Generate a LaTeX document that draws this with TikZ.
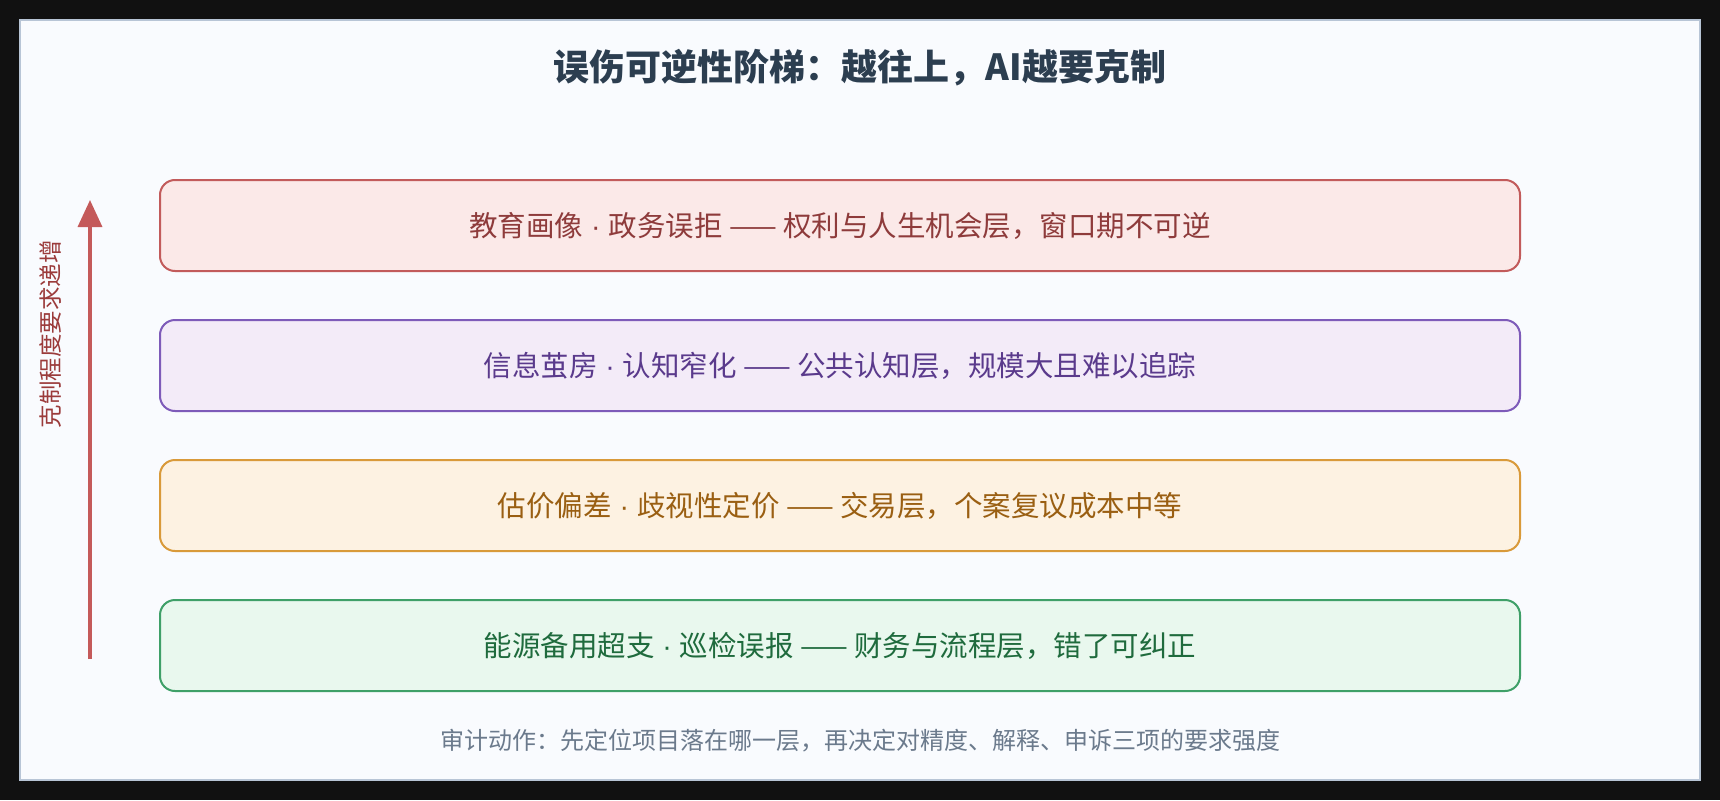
\documentclass[tikz,border=0pt]{standalone}
\usepackage{fontspec}
\setmainfont{Noto Sans CJK SC}
\newfontfamily\latinfont{Liberation Sans}
\newcommand{\mdot}{{\latinfont\ ·\ }}
\usetikzlibrary{arrows.meta}
\definecolor{outerbg}{HTML}{111111}
\definecolor{panelfill}{HTML}{F9FBFE}
\definecolor{paneldraw}{HTML}{B8C5D6}
\definecolor{titlec}{HTML}{2C3E50}
\definecolor{notec}{HTML}{6B7A8C}
\definecolor{redfill}{HTML}{FBE9E8}
\definecolor{reddraw}{HTML}{C25B5B}
\definecolor{redtext}{HTML}{8E3B3B}
\definecolor{purfill}{HTML}{F3EBF8}
\definecolor{purdraw}{HTML}{7E5BB9}
\definecolor{purtext}{HTML}{5A3A8C}
\definecolor{orafill}{HTML}{FDF2E2}
\definecolor{oradraw}{HTML}{D99A3A}
\definecolor{oratext}{HTML}{9A5F12}
\definecolor{grefill}{HTML}{E9F8EE}
\definecolor{gredraw}{HTML}{3FA068}
\definecolor{gretext}{HTML}{1F6B3D}
\definecolor{arrowc}{HTML}{C45A5A}
\definecolor{labelc}{HTML}{9B3B3B}
\tikzset{
  layerbox/.style={draw, line width=2pt, rounded corners=15pt, minimum width=1360pt, minimum height=91pt, inner sep=0pt, font=\fontsize{28.5}{33}\selectfont},
}
\begin{document}
\begin{tikzpicture}[x=1pt,y=-1pt]
\useasboundingbox (0,0) rectangle (1720,800);
\fill[outerbg] (0,0) rectangle (1720,800);
\draw[paneldraw, fill=panelfill, line width=2pt] (20,20) rectangle (1700,780);
\node[text=titlec, font=\fontsize{36}{42}\selectfont\bfseries] (title) at (860,68) {误伤可逆性阶梯：越往上，AI越要克制};
\node[layerbox, draw=reddraw, fill=redfill, text=redtext] (l4) at (840,225.5) {教育画像\mdot 政务误拒 —— 权利与人生机会层，窗口期不可逆};
\node[layerbox, draw=purdraw, fill=purfill, text=purtext] (l3) at (840,365.5) {信息茧房\mdot 认知窄化 —— 公共认知层，规模大且难以追踪};
\node[layerbox, draw=oradraw, fill=orafill, text=oratext] (l2) at (840,505.5) {估价偏差\mdot 歧视性定价 —— 交易层，个案复议成本中等};
\node[layerbox, draw=gredraw, fill=grefill, text=gretext] (l1) at (840,645.5) {能源备用超支\mdot 巡检误报 —— 财务与流程层，错了可纠正};
\coordinate (abot) at (90,659);
\coordinate (atop) at (90,200);
\draw[arrowc, line width=3.5pt, -{Triangle[width=24pt,length=27pt]}] (abot) -- (atop);
\node[text=labelc, rotate=90, font=\fontsize{23.5}{28}\selectfont] (axis) at (51,334) {克制程度要求递增};
\node[text=notec, font=\fontsize{24}{28}\selectfont] (note) at (860,741) {审计动作：先定位项目落在哪一层，再决定对精度、解释、申诉三项的要求强度};
\end{tikzpicture}
\end{document}
